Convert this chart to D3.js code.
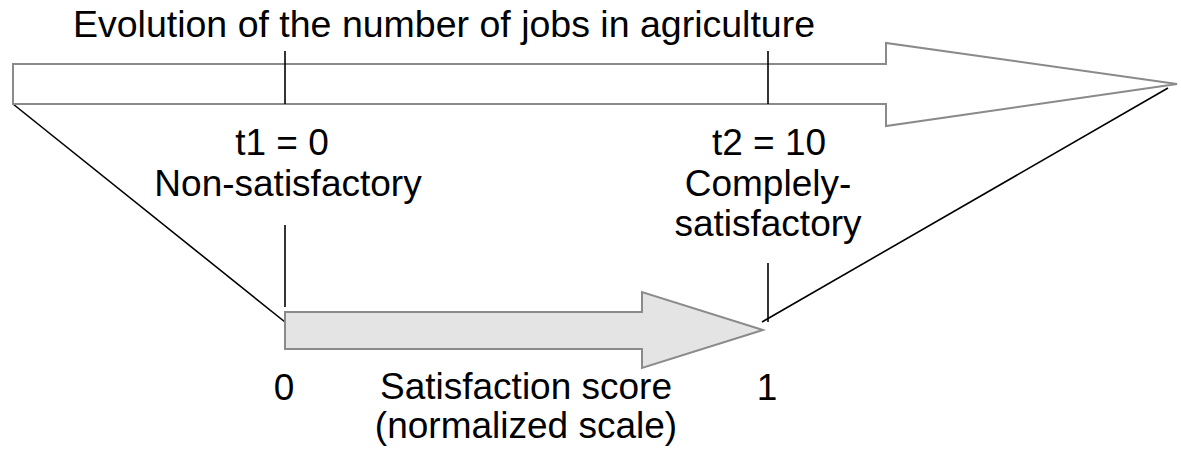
<!DOCTYPE html>
<html><head><meta charset="utf-8">
<script src="https://cdn.jsdelivr.net/npm/d3@7"></script>
<style>body{margin:0;background:#fff}svg{display:block}text{font-family:"Liberation Sans",Arial,sans-serif;fill:#000}</style>
</head><body>
<svg id="c" width="1181" height="457"></svg>
<script>
// ---- data ----
const title = "Evolution of the number of jobs in agriculture";
const timePoints = [0, 10];                 // t1, t2 on the jobs axis
const timeLabels = ["t1 = 0", "t2 = 10"];
const timeDescriptions = [["Non-satisfactory"], ["Complely-", "satisfactory"]];
const scoreTicks = [0, 1];
const scoreTickLabels = ["0", "1"];
const scoreAxisTitle = ["Satisfaction score", "(normalized scale)"];

// ---- layout ----
const svg = d3.select("#c");
const score = d3.scaleLinear().domain([0, 1]).range([285, 768]);
const time = d3.scaleLinear().domain([0, 10]).range([285, 768]);

const topArrow = {x0: 13, y0: 64, y1: 104, notch: 886, hy0: 43, hy1: 126, tipX: 1177, tipY: 84};
const botArrow = {x0: score(0), y0: 312, y1: 349, notch: 642, hy0: 292, hy1: 368, tipX: 763, tipY: 330};

function arrowPath(a) {
  return `M${a.x0},${a.y0}H${a.notch}V${a.hy0}L${a.tipX},${a.tipY}L${a.notch},${a.hy1}V${a.y1}H${a.x0}Z`;
}

svg.append("line").attr("x1", topArrow.x0).attr("y1", topArrow.y1).attr("x2", score(0)).attr("y2", 322)
  .attr("stroke", "#000").attr("stroke-width", 1.6);
svg.append("line").attr("x1", 1168).attr("y1", 88).attr("x2", 762).attr("y2", 322)
  .attr("stroke", "#000").attr("stroke-width", 1.6);

svg.append("path").attr("d", arrowPath(topArrow)).attr("fill", "#fff")
  .attr("stroke", "#8a8a8a").attr("stroke-width", 2);
svg.append("path").attr("d", arrowPath(botArrow)).attr("fill", "#e4e4e4")
  .attr("stroke", "#8a8a8a").attr("stroke-width", 2);

svg.selectAll(".tt").data(timePoints).join("line")
  .attr("x1", d => time(d)).attr("x2", d => time(d)).attr("y1", 51).attr("y2", 104)
  .attr("stroke", "#000").attr("stroke-width", 1.6);
const lowTickTop = [225, 263], lowTickBottom = [307, 322];
svg.selectAll(".lt").data(scoreTicks).join("line")
  .attr("x1", d => score(d)).attr("x2", d => score(d))
  .attr("y1", (d, i) => lowTickTop[i]).attr("y2", (d, i) => lowTickBottom[i])
  .attr("stroke", "#000").attr("stroke-width", 1.6);

const fs = "37px";
svg.append("text").attr("x", 444).attr("y", 37).attr("text-anchor", "middle")
  .style("font-size", "37.5px").text(title);

const tlX = [282, 769];
svg.selectAll(".tl").data(timeLabels).join("text")
  .attr("x", (d, i) => tlX[i]).attr("y", 155).attr("text-anchor", "middle")
  .style("font-size", fs).text(d => d);
const descX = [288, 768];
timeDescriptions.forEach((lines, i) => {
  lines.forEach((l, j) => {
    svg.append("text").attr("x", descX[i]).attr("y", 196 + j * 40).attr("text-anchor", "middle")
      .style("font-size", fs).text(l);
  });
});

svg.selectAll(".sl").data(scoreTicks).join("text")
  .attr("x", d => score(d) - 1).attr("y", 400).attr("text-anchor", "middle")
  .style("font-size", fs).text((d, i) => scoreTickLabels[i]);
scoreAxisTitle.forEach((l, j) => {
  svg.append("text").attr("x", 526).attr("y", 399 + j * 38.5).attr("text-anchor", "middle")
    .style("font-size", fs).text(l);
});
</script>
</body></html>
